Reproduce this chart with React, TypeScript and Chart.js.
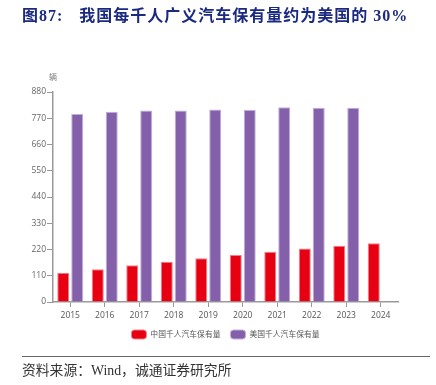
import React, { useEffect, useRef } from "react";
import { Chart, registerables } from "chart.js";

Chart.register(...registerables);

const years = ["2015", "2016", "2017", "2018", "2019", "2020", "2021", "2022", "2023", "2024"];
const chinaValues = [123, 137, 154, 169, 183, 197, 211, 224, 236, 246];
const usValues: (number | null)[] = [788, 797, 803, 803, 807, 805, 816, 814, 814, null];
const yTicks = [0, 110, 220, 330, 440, 550, 660, 770, 880];
const seriesNames = ["中国千人汽车保有量", "美国千人汽车保有量"];
const titleText = "图87:";
const titleBody = "我国每千人广义汽车保有量约为美国的 30%";
const sourceText = "资料来源：Wind，诚通证券研究所";
const unitText = "辆";

const tickFont = { family: "'Open Sans', 'Noto Sans CJK SC', sans-serif", size: 8.5 };

export default function App() {
  const ref = useRef<HTMLCanvasElement>(null);

  useEffect(() => {
    if (!ref.current) return;
    const unitPlugin = {
      id: "unitLabel",
      afterLayout(chart: any) {
        // centre the legend under the plot area
        const lg = chart.legend;
        if (lg) {
          const area = chart.chartArea;
          const shift = (area.left + area.right) / 2 - (lg.left + lg.right) / 2;
          lg.left += shift;
          lg.right += shift;
          (lg.legendHitBoxes || []).forEach((h: any) => (h.left += shift));
        }
      },
      afterDraw(chart: any) {
        const ctx = chart.ctx;
        const y = chart.scales.y;
        ctx.save();
        ctx.font = "8px 'Noto Sans CJK SC', sans-serif";
        ctx.fillStyle = "#777";
        ctx.textAlign = "center";
        ctx.textBaseline = "middle";
        ctx.fillText(unitText, y.right, chart.chartArea.top - 15);
        ctx.restore();
      },
    };
    const chart = new Chart(ref.current, {
      type: "bar",
      data: {
        labels: years,
        datasets: [
          {
            label: seriesNames[0],
            data: chinaValues,
            backgroundColor: "#E60012",
            borderColor: "#F27E8A",
            borderWidth: 1,
            barPercentage: 0.86,
            categoryPercentage: 0.81,
          },
          {
            label: seriesNames[1],
            data: usValues,
            backgroundColor: "#8460AA",
            borderColor: "#C2AEDB",
            borderWidth: 1,
            barPercentage: 0.86,
            categoryPercentage: 0.81,
          },
        ],
      },
      plugins: [unitPlugin],
      options: {
        animation: false,
        responsive: false,
        maintainAspectRatio: false,
        layout: { padding: { left: 0, right: 38, top: 92, bottom: 36 } },
        plugins: {
          title: { display: false },
          tooltip: { enabled: false },
          legend: {
            display: true,
            position: "bottom",
            labels: {
              boxWidth: 15,
              boxHeight: 9,
              padding: 10,
              color: "#555",
              font: { family: "'Noto Sans CJK SC', sans-serif", size: 7.8 },
              useBorderRadius: true,
              borderRadius: 3,
            } as any,
          },
        },
        scales: {
          x: {
            offset: true,
            grid: {
              offset: false,
              drawOnChartArea: false,
              drawTicks: true,
              tickLength: 5,
              color: "#999",
            },
            border: { display: true, color: "#9a9a9a", width: 1.5 },
            ticks: { color: "#555", font: tickFont, padding: 3, maxRotation: 0 },
            afterFit: (s: any) => {
              s.height = 18;
            },
          },
          y: {
            min: 0,
            max: 880,
            afterBuildTicks: (s: any) => {
              s.ticks = yTicks.map((v) => ({ value: v }));
            },
            grid: {
              drawOnChartArea: false,
              drawTicks: true,
              tickLength: 6,
              color: "#999",
            },
            border: { display: true, color: "#9a9a9a", width: 1.5 },
            ticks: { color: "#666", font: tickFont, padding: 1 },
            afterFit: (s: any) => {
              s.width = 53;
            },
          },
        },
      },
    });
    return () => chart.destroy();
  }, []);

  return (
    <div style={{ position: "absolute", left: 0, top: 0, width: 436, height: 385, background: "#fff", overflow: "hidden" }}>
      <canvas ref={ref} width={436} height={385} style={{ position: "absolute", left: 0, top: 0, width: 436, height: 385 }} />
      <div
        style={{
          position: "absolute",
          left: 22,
          top: 6,
          whiteSpace: "nowrap",
          fontFamily: "'Liberation Serif', 'Noto Sans CJK SC', serif",
          fontWeight: "bold",
          fontSize: 16,
          letterSpacing: 1,
          color: "#1B2A80",
          lineHeight: "20px",
        }}
      >
        <span>{titleText}</span>
        <span style={{ marginLeft: 16 }}>{titleBody}</span>
      </div>
      <div style={{ position: "absolute", left: 22, top: 356, width: 408, height: 1, background: "#666" }} />
      <div
        style={{
          position: "absolute",
          left: 22,
          top: 362,
          whiteSpace: "nowrap",
          fontFamily: "'Liberation Serif', 'Noto Sans CJK SC', serif",
          fontSize: 13.8,
          color: "#333",
          lineHeight: "18px",
        }}
      >
        {sourceText}
      </div>
    </div>
  );
}
